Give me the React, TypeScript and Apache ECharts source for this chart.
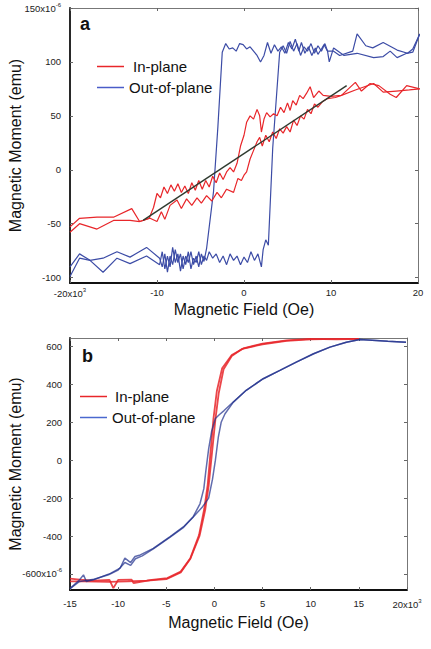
import React, { useEffect, useRef } from "react";
import * as echarts from "echarts";

// ---- Panel a (x in 10^3 Oe, y in 10^-6 emu) ----
const aXTicks = [-20, -10, 0, 10, 20];
const aYTicks = [-100, -50, 0, 50, 100, 150];

const aInPlaneDown: [number, number][] = [
  [20.2, 75], [18.7, 78], [17.5, 67], [16.8, 70], [15.5, 78], [14.5, 80], [13.5, 73], [12.8, 81], [12.0, 75],
  [11.2, 69], [10.0, 68], [9.1, 69], [8.6, 73], [8.0, 67], [7.6, 77], [7.2, 71], [6.8, 66], [6.4, 69], [6.0, 60],
  [5.6, 64], [5.3, 55], [5.0, 62], [4.6, 53], [4.2, 58], [3.8, 50], [3.4, 52], [3.0, 49], [2.6, 53], [2.3, 47],
  [2.0, 35], [1.8, 50], [1.5, 56], [1.1, 47], [0.7, 50], [0.3, 44], [0.0, 32], [-0.4, 22], [-0.8, 6], [-1.2, -2],
  [-1.6, 2], [-2.0, -2], [-2.4, -9], [-2.8, -3], [-3.2, -12], [-3.6, -6], [-4.0, -16], [-4.4, -10], [-4.8, -18],
  [-5.2, -10], [-5.6, -19], [-6.0, -12], [-6.4, -22], [-6.8, -15], [-7.2, -21], [-7.6, -13], [-8.0, -20],
  [-8.4, -14], [-8.8, -22], [-9.2, -16], [-9.6, -26], [-10.0, -22], [-10.4, -35], [-10.9, -45], [-11.6, -47],
  [-12.0, -48], [-12.9, -36], [-15.0, -44], [-16.9, -44], [-18.9, -45], [-20.0, -53],
];
const aInPlaneUp: [number, number][] = [
  [-20.0, -58], [-18.9, -50], [-16.9, -55], [-15.0, -47], [-13.1, -47], [-12.0, -48], [-10.8, -45], [-10.0, -48],
  [-9.5, -39], [-9.1, -46], [-8.5, -33], [-7.7, -28], [-7.2, -36], [-6.6, -27], [-6.0, -33], [-5.4, -26],
  [-4.9, -31], [-4.3, -24], [-3.7, -29], [-3.1, -21], [-2.6, -26], [-2.0, -18], [-1.2, -21], [-0.7, -8],
  [-0.3, -10], [0.0, -5], [0.3, -2], [0.7, 10], [1.1, 18], [1.5, 26], [1.8, 30], [2.1, 22], [2.5, 32], [2.9, 26],
  [3.3, 35], [3.7, 29], [4.1, 38], [4.5, 34], [4.9, 40], [5.3, 35], [5.7, 46], [6.1, 41], [6.5, 50], [6.9, 47],
  [7.3, 56], [7.7, 52], [8.1, 61], [8.5, 58], [9.0, 63], [9.6, 66], [10.5, 67], [11.2, 69], [12.8, 74],
  [14.9, 80], [16.0, 72], [17.5, 73], [19.0, 74], [20.2, 75],
];
const aOutPlaneDown: [number, number][] = [
  [20.2, 126], [19.4, 109], [18.7, 108], [17.6, 104], [16.8, 110], [16.0, 105], [14.9, 104], [13.0, 108],
  [11.5, 106], [10.3, 113], [9.8, 100], [9.6, 110], [9.2, 116], [8.9, 112], [8.5, 107], [8.2, 113], [7.8, 106],
  [7.4, 114], [7.0, 108], [6.6, 118], [6.3, 110], [5.9, 121], [5.5, 112], [5.1, 118], [4.7, 108], [4.3, 114],
  [3.9, 110], [3.5, 116], [3.1, 108], [2.7, 118], [2.3, 106], [1.9, 100], [1.5, 106], [1.1, 110], [0.7, 114],
  [0.3, 112], [-0.1, 116], [-0.5, 117], [-0.9, 110], [-1.3, 113], [-1.7, 112], [-2.1, 117], [-2.5, 109],
  [-3.0, 40], [-3.5, -20], [-4.3, -73], [-4.6, -85], [-4.9, -78], [-5.2, -90], [-5.5, -80], [-5.8, -88],
  [-6.1, -76], [-6.4, -86], [-6.7, -80], [-7.0, -92], [-7.3, -78], [-7.6, -86], [-7.9, -74], [-8.2, -88],
  [-8.5, -80], [-8.8, -95], [-9.1, -78], [-9.4, -90], [-9.7, -82], [-11.2, -72], [-13.1, -81], [-14.6, -76],
  [-16.2, -82], [-17.7, -84], [-18.9, -78], [-20.0, -90],
];
const aOutPlaneUp: [number, number][] = [
  [-20.0, -99], [-18.9, -82], [-17.7, -84], [-16.2, -95], [-14.6, -82], [-13.1, -87], [-11.2, -80],
  [-9.7, -88], [-9.4, -76], [-9.1, -92], [-8.8, -80], [-8.5, -90], [-8.2, -72], [-7.9, -86], [-7.6, -78],
  [-7.3, -94], [-7.0, -80], [-6.7, -88], [-6.4, -76], [-6.1, -92], [-5.8, -82], [-5.5, -86], [-5.2, -76],
  [-4.9, -88], [-4.6, -80], [-4.3, -84], [-4.0, -76], [-3.6, -82], [-3.2, -78], [-2.8, -86], [-2.4, -80],
  [-2.0, -88], [-1.6, -78], [-1.2, -84], [-0.8, -80], [-0.4, -88], [0.0, -81], [0.4, -86], [0.8, -76],
  [1.2, -84], [1.6, -78], [2.0, -90], [2.2, -74], [2.5, -65], [2.8, -70], [3.3, 20], [4.1, 109], [4.5, 115],
  [4.9, 108], [5.3, 119], [5.7, 110], [6.1, 117], [6.5, 106], [6.9, 114], [7.3, 110], [7.7, 117], [8.1, 108],
  [8.5, 115], [8.9, 110], [9.3, 117], [9.6, 110], [10.3, 110], [11.0, 106], [12.5, 110], [13.0, 126],
  [14.0, 115], [14.8, 113], [16.0, 118], [17.6, 111], [18.8, 108], [19.4, 112], [20.2, 126],
];
const aFitLine: [number, number][] = [[-11.6, -47], [11.8, 78]];

// ---- Panel b (x in 10^3 Oe, y in 10^-6 emu) ----
const bXTicks = [-15, -10, -5, 0, 5, 10, 15, 20];
const bYTicks = [-600, -400, -200, 0, 200, 400, 600];

const bInPlaneDown: [number, number][] = [
  [15, 640], [12.7, 638], [9.9, 640], [7.5, 632], [5.0, 615], [3.0, 590], [1.8, 555], [0.8, 485], [0.25, 365],
  [-0.1, 220], [-0.4, 45], [-0.7, -130], [-1.05, -255], [-1.6, -395], [-2.5, -517], [-3.5, -588], [-4.9, -622],
  [-6.5, -632], [-8.4, -648], [-8.6, -630], [-10.0, -632], [-10.5, -675], [-10.9, -632], [-12.5, -635],
  [-14, -630], [-15, -625],
];
const bInPlaneUp: [number, number][] = [
  [-15, -640], [-13.5, -640], [-11, -642], [-9, -640], [-7, -636], [-5, -628], [-3.5, -592], [-2.5, -520],
  [-1.55, -400], [-0.95, -260], [-0.6, -135], [-0.25, 40], [0.1, 215], [0.45, 355], [0.95, 480], [1.8, 550],
  [2.9, 588], [5.0, 612], [7.5, 630], [10, 638], [12.7, 640], [15, 640],
];
const bOutPlaneDown: [number, number][] = [
  [19.9, 623], [18, 628], [16.8, 632], [15.1, 637], [13.7, 623], [12, 597], [10.3, 562], [8.5, 518], [6.8, 474],
  [5.07, 430], [3.3, 369], [1.95, 307], [1.0, 262], [0.5, 240], [0.1, 220], [-0.3, 150], [-0.6, 60],
  [-0.9, -60], [-1.1, -150], [-1.5, -230], [-2.2, -298], [-3.2, -351], [-4.6, -403], [-6.35, -465],
  [-7.7, -500], [-8.25, -508], [-8.7, -540], [-9.3, -517], [-9.8, -570], [-10.8, -597], [-12.5, -630],
  [-13.3, -640], [-13.6, -605], [-14, -631], [-15, -678],
];
const bOutPlaneUp: [number, number][] = [
  [-15, -678], [-14, -640], [-12.5, -628], [-11, -605], [-10, -580], [-9.3, -540], [-8.7, -555], [-8.2, -520],
  [-7.5, -505], [-6.35, -468], [-4.6, -406], [-3.2, -354], [-2.2, -300], [-1.3, -250], [-0.6, -200],
  [-0.2, -100], [0.1, 0], [0.4, 120], [0.7, 200], [1.1, 245], [1.95, 305], [3.3, 369], [5.07, 430], [6.8, 474],
  [8.5, 518], [10.3, 562], [12, 597], [13.7, 623], [15.1, 637], [16.8, 632], [18, 628], [19.9, 623],
];

const RED = "#e8262a";
const BLUE_A = "#3c4ca6";
const BLUE_B = "#1e2d8c";
const FONT = "'Liberation Sans', Arial, Helvetica, sans-serif";

const sup = { fontSize: 6, fontFamily: FONT, color: "#222", padding: [0, 0, 7, 0] };

export default function App() {
  const ref = useRef<HTMLDivElement>(null);
  useEffect(() => {
    if (!ref.current) return;
    const chart = echarts.init(ref.current, undefined, { renderer: "svg" });

    const labelStyle = { fontSize: 9.5, color: "#222", fontFamily: FONT, rich: { sup } };
    const nameStyle = { fontSize: 16, color: "#111", fontFamily: FONT };
    const mainLine = { show: true, onZero: false, lineStyle: { color: "#111", width: 1.8 } };
    const frameLine = { show: true, onZero: false, lineStyle: { color: "#777", width: 1 } };
    const tickIn = (vals: number[]) => ({ show: true, inside: true, length: 3, lineStyle: { color: "#666" }, customValues: vals });

    const lineSeries = (name: string, data: [number, number][], color: string, width: number, axis: number, opacity = 1) => ({
      type: "line",
      name,
      data,
      xAxisIndex: axis,
      yAxisIndex: axis,
      showSymbol: false,
      symbol: "none",
      lineStyle: { color, width, opacity },
      itemStyle: { color },
      z: 3,
    });

    chart.setOption({
      animation: false,
      backgroundColor: "#fff",
      grid: [
        { left: 70, top: 8, right: 13, height: 275, outerBoundsMode: "none", containLabel: false },
        { left: 70, top: 338, right: 24, height: 252, outerBoundsMode: "none", containLabel: false },
      ],
      xAxis: [
        {
          type: "value", gridIndex: 0, position: "bottom", min: -20, max: 20,
          axisLine: mainLine, axisTick: tickIn(aXTicks), splitLine: { show: false },
          axisLabel: {
            ...labelStyle, margin: 4, customValues: aXTicks, showMinLabel: true, showMaxLabel: true,
            formatter: (v: number) => (v === -20 ? "-20x10{sup|3}" : String(v)),
          },
          name: "Magnetic Field (Oe)", nameLocation: "middle", nameGap: 18, nameMoveOverlap: false, nameTextStyle: nameStyle,
        },
        {
          type: "value", gridIndex: 0, position: "top", min: -20, max: 20,
          axisLine: frameLine, axisTick: tickIn(aXTicks), axisLabel: { show: false }, splitLine: { show: false },
        },
        {
          type: "value", gridIndex: 1, position: "bottom", min: -15, max: 20,
          axisLine: mainLine, axisTick: tickIn(bXTicks), splitLine: { show: false },
          axisLabel: {
            ...labelStyle, margin: 8, customValues: bXTicks, showMinLabel: true, showMaxLabel: true,
            formatter: (v: number) => (v === 20 ? "20x10{sup|3}" : String(v)),
          },
          name: "Magnetic Field (Oe)", nameLocation: "middle", nameGap: 24, nameMoveOverlap: false, nameTextStyle: nameStyle,
        },
        {
          type: "value", gridIndex: 1, position: "top", min: -15, max: 20,
          axisLine: frameLine, axisTick: tickIn(bXTicks), axisLabel: { show: false }, splitLine: { show: false },
        },
      ],
      yAxis: [
        {
          type: "value", gridIndex: 0, position: "left", min: -105, max: 150,
          axisLine: mainLine, axisTick: tickIn(aYTicks), splitLine: { show: false },
          axisLabel: {
            ...labelStyle, margin: 9, customValues: aYTicks, showMinLabel: true, showMaxLabel: true,
            formatter: (v: number) => (v === 150 ? "150x10{sup|-6}" : String(v)),
          },
          name: "Magnetic Moment (emu)", nameLocation: "middle", nameGap: 47, nameMoveOverlap: false, nameTextStyle: nameStyle,
        },
        {
          type: "value", gridIndex: 0, position: "right", min: -105, max: 150,
          axisLine: frameLine, axisTick: tickIn(aYTicks), axisLabel: { show: false }, splitLine: { show: false },
        },
        {
          type: "value", gridIndex: 1, position: "left", min: -685, max: 645,
          axisLine: mainLine, axisTick: tickIn(bYTicks), splitLine: { show: false },
          axisLabel: {
            ...labelStyle, margin: 8, customValues: bYTicks, showMinLabel: true, showMaxLabel: true,
            formatter: (v: number) => (v === -600 ? "-600x10{sup|-6}" : String(v)),
          },
          name: "Magnetic Moment (emu)", nameLocation: "middle", nameGap: 47, nameMoveOverlap: false, nameTextStyle: nameStyle,
        },
        {
          type: "value", gridIndex: 1, position: "right", min: -685, max: 645,
          axisLine: frameLine, axisTick: tickIn(bYTicks), axisLabel: { show: false }, splitLine: { show: false },
        },
      ],
      legend: [
        {
          left: 92, top: 54, orient: "vertical", itemGap: 6, itemWidth: 27, itemHeight: 1.5, icon: "rect",
          textStyle: { fontSize: 15, color: "#111", fontFamily: FONT },
          selectedMode: false,
          data: [
            { name: "In-plane", itemStyle: { color: RED }, textStyle: { padding: [0, 0, 0, 4] } },
            { name: "Out-of-plane", itemStyle: { color: "#4a5cc8" } },
          ],
        },
        {
          left: 75, top: 384, orient: "vertical", itemGap: 6, itemWidth: 27, itemHeight: 1.5, icon: "rect",
          textStyle: { fontSize: 15, color: "#111", fontFamily: FONT },
          selectedMode: false,
          data: [
            { name: "In-plane", itemStyle: { color: RED }, textStyle: { padding: [0, 0, 0, 3] } },
            { name: "Out-of-plane", itemStyle: { color: "#4a68cf" } },
          ],
        },
      ],
      graphic: [
        { type: "text", left: 80, top: 15, style: { text: "a", fontSize: 18, fontWeight: "bold", fill: "#111", fontFamily: FONT } },
        { type: "text", left: 82, top: 347, style: { text: "b", fontSize: 18, fontWeight: "bold", fill: "#111", fontFamily: FONT } },
      ],
      series: [
        lineSeries("Out-of-plane", aOutPlaneDown, BLUE_A, 1.2, 0),
        lineSeries("Out-of-plane", aOutPlaneUp, BLUE_A, 1.2, 0),
        lineSeries("In-plane", aInPlaneDown, RED, 1.2, 0),
        lineSeries("In-plane", aInPlaneUp, RED, 1.2, 0),
        { ...lineSeries("fit", aFitLine, "#2f3a2f", 1.4, 0), z: 4 },
        lineSeries("In-plane", bInPlaneDown, RED, 1.8, 2, 0.85),
        lineSeries("In-plane", bInPlaneUp, RED, 1.8, 2, 0.85),
        lineSeries("Out-of-plane", bOutPlaneDown, BLUE_B, 1.5, 2, 0.7),
        lineSeries("Out-of-plane", bOutPlaneUp, BLUE_B, 1.5, 2, 0.7),
      ],
    });
    return () => chart.dispose();
  }, []);
  return <div ref={ref} style={{ position: "fixed", left: 0, top: 0, width: 431, height: 649 }} />;
}
